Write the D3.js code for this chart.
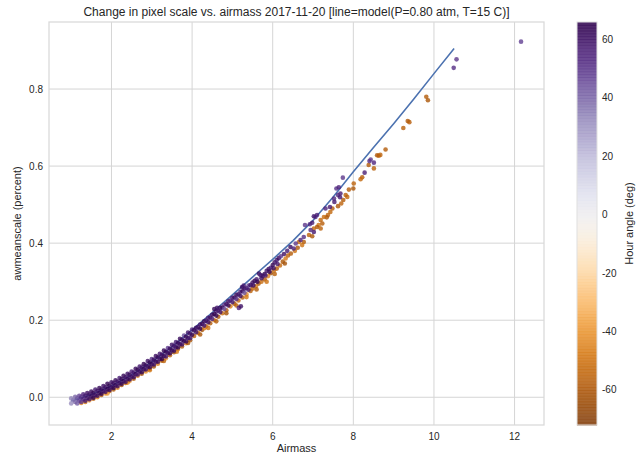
<!DOCTYPE html>
<html>
<head>
<meta charset="utf-8">
<script src="https://cdn.jsdelivr.net/npm/d3@7"></script>
<style>
    body { margin: 0; background: #fff; }
    text { font-family: "Liberation Sans", Arial, sans-serif; fill: #262626; }
</style>
</head>
<body>
<div id="chart"></div>
<script>
// Model curve, P=0.80 atm, T=15 C (airmass, percent)
const model_airmass = [1.0, 1.5, 2.0, 2.5, 3.0, 3.5, 4.0, 4.5, 5.0, 5.5, 6.0, 6.5, 7.0, 7.5, 8.0, 8.5, 9.0, 9.5, 10.0, 10.5];
const model_scale = [-0.010, 0.007, 0.030, 0.058, 0.092, 0.131, 0.175, 0.220, 0.266, 0.312, 0.358, 0.406, 0.459, 0.520, 0.585, 0.648, 0.710, 0.774, 0.840, 0.905];

// Measured points: [airmass, awmeanscale, hour angle]
// dense band, east side (negative hour angle)
const band_east = [
    [1.25, -0.015, -42], [1.35, -0.012, -50], [1.45, -0.008, -38], [1.55, -0.004, -55], [1.65, 0.000, -46],
    [1.75, 0.006, -60], [1.85, 0.010, -40], [1.95, 0.016, -52], [2.05, 0.020, -58], [2.15, 0.025, -45],
    [2.25, 0.032, -62], [2.35, 0.037, -50], [2.45, 0.042, -36], [2.55, 0.048, -56], [2.65, 0.056, -48],
    [2.75, 0.061, -60], [2.85, 0.067, -42], [2.95, 0.074, -54], [3.05, 0.080, -62], [3.15, 0.087, -47],
    [3.25, 0.095, -58], [3.35, 0.101, -40], [3.45, 0.109, -55], [3.55, 0.117, -63], [3.65, 0.125, -50],
    [3.75, 0.132, -58], [3.85, 0.140, -44], [3.95, 0.148, -60],
    [1.9, 0.010, -40], [2.4, 0.038, -45], [2.95, 0.070, -50], [3.3, 0.094, -55], [3.62, 0.118, -48], [3.9, 0.141, -62],
    [4.05, 0.159, -55], [4.15, 0.167, -48], [4.25, 0.175, -62], [4.35, 0.184, -50], [4.45, 0.192, -58],
    [4.55, 0.200, -44], [4.65, 0.209, -60], [4.75, 0.218, -52], [4.85, 0.226, -57], [4.95, 0.236, -46],
    [5.05, 0.243, -61], [5.15, 0.251, -53], [5.25, 0.259, -58], [5.35, 0.267, -42], [5.45, 0.276, -56],
    [4.2, 0.163, -60], [4.3, 0.179, -45], [4.4, 0.180, -50], [4.6, 0.197, -58], [4.85, 0.218, -62],
    [5.1, 0.238, -55], [5.35, 0.260, -48],
    [5.5, 0.282, -55], [5.58, 0.288, -48], [5.65, 0.295, -60], [5.72, 0.300, -52], [5.8, 0.306, -58],
    [5.88, 0.314, -45], [5.95, 0.322, -62], [6.03, 0.329, -50], [6.1, 0.334, -57], [6.18, 0.342, -53],
    [6.25, 0.352, -60], [6.32, 0.360, -47], [6.38, 0.368, -55], [6.45, 0.373, -58], [6.55, 0.380, -50],
    [6.62, 0.388, -60], [5.6, 0.280, -58], [5.85, 0.300, -50], [6.05, 0.320, -56], [6.3, 0.347, -62]
];

// dense band, west side (positive hour angle)
const band_west = [
    [1.0, -0.003, 34], [1.1, 0.001, 40], [1.2, 0.004, 47], [1.3, 0.008, 55], [1.4, 0.011, 60],
    [1.5, 0.015, 62], [1.6, 0.020, 58], [1.7, 0.024, 63], [1.8, 0.029, 60], [1.9, 0.035, 64],
    [2.0, 0.039, 59], [2.1, 0.044, 62], [2.2, 0.050, 57], [2.3, 0.056, 63], [2.4, 0.061, 60],
    [2.5, 0.067, 55], [2.6, 0.074, 62], [2.7, 0.080, 58], [2.8, 0.086, 64], [2.9, 0.094, 60],
    [3.0, 0.099, 52], [3.1, 0.107, 61], [3.2, 0.113, 58], [3.3, 0.121, 63], [3.4, 0.128, 49],
    [3.5, 0.136, 60], [3.6, 0.143, 56], [3.7, 0.152, 62], [3.8, 0.160, 45], [3.9, 0.168, 59], [4.0, 0.176, 54],
    [1.05, -0.007, 36], [1.15, -0.003, 44], [1.25, 0.000, 52], [1.35, 0.004, 58], [1.45, 0.007, 61],
    [1.55, 0.011, 64], [1.65, 0.016, 60], [1.75, 0.020, 63], [1.85, 0.026, 61], [1.95, 0.030, 65],
    [2.05, 0.036, 62], [2.15, 0.041, 60], [2.25, 0.047, 64], [2.35, 0.052, 61], [2.45, 0.058, 63],
    [2.55, 0.064, 59], [2.65, 0.071, 64], [2.75, 0.077, 60], [2.85, 0.083, 62], [2.95, 0.090, 65],
    [3.05, 0.097, 61], [3.15, 0.104, 63], [3.25, 0.110, 60], [3.35, 0.118, 64], [3.45, 0.126, 62],
    [3.55, 0.133, 59], [3.65, 0.141, 63], [3.75, 0.149, 61], [3.85, 0.157, 64], [3.95, 0.165, 60],
    [1.0, -0.016, 32], [1.1, -0.012, 40], [1.2, -0.009, 48], [1.3, -0.005, 56], [1.4, -0.002, 60],
    [1.5, 0.002, 63], [1.6, 0.006, 61], [1.7, 0.011, 64], [1.8, 0.016, 62], [1.9, 0.021, 65],
    [2.0, 0.026, 60], [2.1, 0.031, 63], [2.2, 0.037, 61], [2.3, 0.042, 64], [2.4, 0.048, 62],
    [2.5, 0.054, 60], [2.6, 0.060, 64], [2.7, 0.067, 61], [2.8, 0.073, 63], [2.9, 0.080, 60],
    [3.0, 0.086, 64], [3.1, 0.093, 62], [3.2, 0.100, 59], [3.3, 0.107, 63], [3.4, 0.115, 61],
    [3.5, 0.122, 64], [3.6, 0.130, 60], [3.7, 0.138, 62], [3.8, 0.146, 65], [3.9, 0.154, 61], [4.0, 0.162, 63],
    [1.15, -0.016, 42], [1.25, -0.012, 50], [1.35, -0.009, 57], [1.45, -0.005, 60], [1.55, -0.001, 63],
    [1.65, 0.004, 61], [1.75, 0.009, 64], [1.85, 0.014, 60], [1.95, 0.019, 62], [2.05, 0.024, 65],
    [2.15, 0.029, 61], [2.25, 0.035, 63], [2.35, 0.040, 60], [2.45, 0.046, 64], [2.55, 0.052, 62],
    [2.65, 0.059, 58], [2.75, 0.065, 63], [2.85, 0.072, 61], [2.95, 0.078, 64], [3.05, 0.085, 60],
    [3.15, 0.092, 62], [3.25, 0.099, 65], [3.35, 0.106, 59], [3.45, 0.114, 63], [3.55, 0.121, 61],
    [3.65, 0.129, 64], [3.75, 0.137, 60], [3.85, 0.145, 62], [3.95, 0.153, 58],
    [4.1, 0.180, 62], [4.2, 0.189, 58], [4.3, 0.197, 64], [4.4, 0.206, 55], [4.5, 0.214, 61],
    [4.6, 0.223, 57], [4.7, 0.232, 63], [4.8, 0.240, 50], [4.9, 0.249, 60], [5.0, 0.258, 58],
    [5.1, 0.266, 62], [5.2, 0.274, 55], [5.3, 0.282, 60], [5.4, 0.290, 48],
    [4.05, 0.174, 63], [4.15, 0.182, 60], [4.25, 0.190, 64], [4.35, 0.199, 59], [4.45, 0.207, 62],
    [4.55, 0.216, 65], [4.65, 0.225, 58], [4.75, 0.233, 63], [4.85, 0.242, 60], [4.95, 0.251, 56],
    [5.05, 0.259, 62], [5.15, 0.267, 59], [5.25, 0.275, 63], [5.35, 0.283, 57], [5.45, 0.291, 61],
    [4.1, 0.169, 60], [4.2, 0.178, 64], [4.3, 0.186, 58], [4.4, 0.195, 61], [4.5, 0.203, 55],
    [4.6, 0.212, 63], [4.7, 0.221, 59], [4.8, 0.229, 45], [4.9, 0.238, 62], [5.0, 0.247, 57],
    [5.1, 0.255, 52], [5.2, 0.263, 60], [5.3, 0.271, 44], [5.4, 0.279, 58],
    [4.55, 0.229, 63], [4.62, 0.232, 60], [5.16, 0.232, 55], [5.21, 0.236, 60], [5.24, 0.286, 62], [5.28, 0.290, 58],
    [5.5, 0.298, 60], [5.55, 0.302, 63], [5.6, 0.306, 58], [5.66, 0.321, 62], [5.70, 0.317, 57],
    [5.75, 0.315, 61], [5.8, 0.320, 64], [5.85, 0.328, 59], [5.9, 0.333, 62], [5.95, 0.336, 55],
    [6.0, 0.343, 63], [6.05, 0.350, 60], [6.1, 0.356, 58], [6.15, 0.361, 62], [6.2, 0.366, 50],
    [6.28, 0.372, 60], [6.36, 0.380, 57], [6.44, 0.390, 62], [6.52, 0.386, 55], [6.57, 0.399, 50],
    [5.52, 0.290, 61], [5.62, 0.300, 64], [5.72, 0.309, 60], [5.82, 0.316, 56], [5.92, 0.326, 63],
    [6.02, 0.335, 60], [6.12, 0.346, 57]
];

// sparse high airmass points
const tail_east = [
    [6.65, 0.403, -52], [6.77, 0.403, -58], [6.73, 0.395, -50], [6.90, 0.421, -55], [6.98, 0.418, -60],
    [7.19, 0.460, -54], [7.23, 0.451, -57], [7.14, 0.447, -50], [7.10, 0.442, -59], [7.02, 0.438, -53],
    [7.19, 0.438, -56], [7.37, 0.473, -55], [7.34, 0.467, -60], [7.27, 0.468, -52], [7.48, 0.490, -57],
    [7.43, 0.481, -54], [7.75, 0.512, -58], [7.70, 0.503, -55], [7.62, 0.496, -60], [7.85, 0.520, -53],
    [7.81, 0.525, -56], [7.89, 0.539, -58], [8.01, 0.555, -55], [8.00, 0.542, -60], [8.22, 0.571, -57],
    [8.18, 0.566, -54], [8.38, 0.603, -58], [8.51, 0.594, -56], [8.59, 0.628, -59], [8.63, 0.627, -57],
    [8.67, 0.629, -55], [8.80, 0.643, -58], [9.24, 0.699, -56], [9.35, 0.717, -59], [9.39, 0.714, -57],
    [9.81, 0.780, -58], [9.85, 0.771, -60]
];

const tail_west = [
    [6.69, 0.408, 55], [6.77, 0.416, 52], [6.80, 0.447, 50], [6.98, 0.453, 57], [6.92, 0.449, 54],
    [7.02, 0.429, 58], [6.94, 0.434, 53], [7.10, 0.473, 56], [7.06, 0.468, 52], [7.02, 0.470, 58],
    [7.31, 0.490, 55], [7.42, 0.494, 57], [7.52, 0.516, 53], [7.53, 0.507, 58], [7.58, 0.542, 51],
    [7.64, 0.545, 55], [7.68, 0.529, 57], [7.62, 0.525, 54], [7.67, 0.519, 58], [7.74, 0.570, 50],
    [8.28, 0.583, 56], [8.40, 0.613, 52], [8.51, 0.609, 54], [8.43, 0.617, 50],
    [10.49, 0.855, 52], [10.56, 0.877, 50], [12.16, 0.923, 48]
];

const x_ticks = [2, 4, 6, 8, 10, 12];
const y_ticks = [0.0, 0.2, 0.4, 0.6, 0.8];
const cbar_ticks = [-60, -40, -20, 0, 20, 40, 60];
const hour_angle_range = [-72, 66];

const attributes = {
    width: 643,
    height: 456,
    plot: { left: 49, right: 544, top: 22, bottom: 425 },
    cbar: { x: 577, width: 20 }
};

const svg = d3.select('#chart').append('svg')
    .attr('width', attributes.width)
    .attr('height', attributes.height);

const p = attributes.plot;

const x_scale = d3.scaleLinear().domain([0.45, 12.73]).range([p.left, p.right]);
const y_scale = d3.scaleLinear().domain([-0.072, 0.974]).range([p.bottom, p.top]);
// PuOr as matplotlib orders it: brown/orange at the low end, purple at the high end
const color = d3.scaleSequential(t => d3.interpolatePuOr(1 - t)).domain(hour_angle_range);

// Grid lines
svg.append('g')
    .selectAll('line')
    .data(x_ticks)
    .join('line')
    .attr('x1', d => x_scale(d)).attr('x2', d => x_scale(d))
    .attr('y1', p.top).attr('y2', p.bottom)
    .attr('stroke', '#d5d5d5').attr('stroke-width', 1);

svg.append('g')
    .selectAll('line')
    .data(y_ticks)
    .join('line')
    .attr('y1', d => y_scale(d)).attr('y2', d => y_scale(d))
    .attr('x1', p.left).attr('x2', p.right)
    .attr('stroke', '#d5d5d5').attr('stroke-width', 1);

// Axes frame
svg.append('rect')
    .attr('x', p.left).attr('y', p.top)
    .attr('width', p.right - p.left).attr('height', p.bottom - p.top)
    .attr('fill', 'none').attr('stroke', '#d9d9d9').attr('stroke-width', 1.25);

// Tick labels
svg.append('g')
    .selectAll('text')
    .data(x_ticks)
    .join('text')
    .attr('x', d => x_scale(d))
    .attr('y', p.bottom + 15)
    .attr('text-anchor', 'middle')
    .style('font-size', '10px')
    .text(d => d);

svg.append('g')
    .selectAll('text')
    .data(y_ticks)
    .join('text')
    .attr('x', p.left - 6)
    .attr('y', d => y_scale(d) + 3.5)
    .attr('text-anchor', 'end')
    .style('font-size', '10px')
    .text(d => d3.format('.1f')(d));

// Model line
const model = model_airmass.map((d, i) => [d, model_scale[i]]);
svg.append('path')
    .datum(model)
    .attr('fill', 'none')
    .attr('stroke', '#4c72b0')
    .attr('stroke-width', 1.6)
    .attr('d', d3.line().x(d => x_scale(d[0])).y(d => y_scale(d[1])));

// Scatter points: east first, then west on top
const all_points = band_east.concat(tail_east, band_west, tail_west);
svg.append('g')
    .selectAll('circle')
    .data(all_points)
    .join('circle')
    .attr('cx', d => x_scale(d[0]))
    .attr('cy', d => y_scale(d[1]))
    .attr('r', 2.3)
    .attr('fill', d => color(d[2]))
    .attr('fill-opacity', 0.8);

// Titles
svg.append('text')
    .attr('x', (p.left + p.right) / 2)
    .attr('y', 16)
    .attr('text-anchor', 'middle')
    .style('font-size', '12px')
    .text('Change in pixel scale vs. airmass 2017-11-20 [line=model(P=0.80 atm, T=15 C)]');

svg.append('text')
    .attr('x', (p.left + p.right) / 2)
    .attr('y', 452)
    .attr('text-anchor', 'middle')
    .style('font-size', '11px')
    .text('Airmass');

svg.append('text')
    .attr('transform', 'translate(21,' + ((p.top + p.bottom) / 2) + ') rotate(-90)')
    .attr('text-anchor', 'middle')
    .style('font-size', '11px')
    .text('awmeanscale (percent)');

// Colorbar
const cb = attributes.cbar;
const cbar_y = d3.scaleLinear().domain(hour_angle_range).range([p.bottom, p.top]);
const stripes = d3.range(hour_angle_range[0], hour_angle_range[1], 1);
svg.append('g')
    .selectAll('rect')
    .data(stripes)
    .join('rect')
    .attr('x', cb.x)
    .attr('width', cb.width)
    .attr('y', d => cbar_y(d + 1))
    .attr('height', d => cbar_y(d) - cbar_y(d + 1) + 0.5)
    .attr('fill', d => color(d + 0.5))
    .attr('fill-opacity', 0.85);

svg.append('rect')
    .attr('x', cb.x).attr('y', p.top)
    .attr('width', cb.width).attr('height', p.bottom - p.top)
    .attr('fill', 'none').attr('stroke', '#e0e0e0').attr('stroke-width', 1);

svg.append('g')
    .selectAll('text')
    .data(cbar_ticks)
    .join('text')
    .attr('x', cb.x + cb.width + 5)
    .attr('y', d => cbar_y(d) + 3.5)
    .style('font-size', '10px')
    .text(d => d);

svg.append('text')
    .attr('transform', 'translate(633,' + ((p.top + p.bottom) / 2) + ') rotate(-90)')
    .attr('text-anchor', 'middle')
    .style('font-size', '11px')
    .text('Hour angle (deg)');
</script>
</body>
</html>
